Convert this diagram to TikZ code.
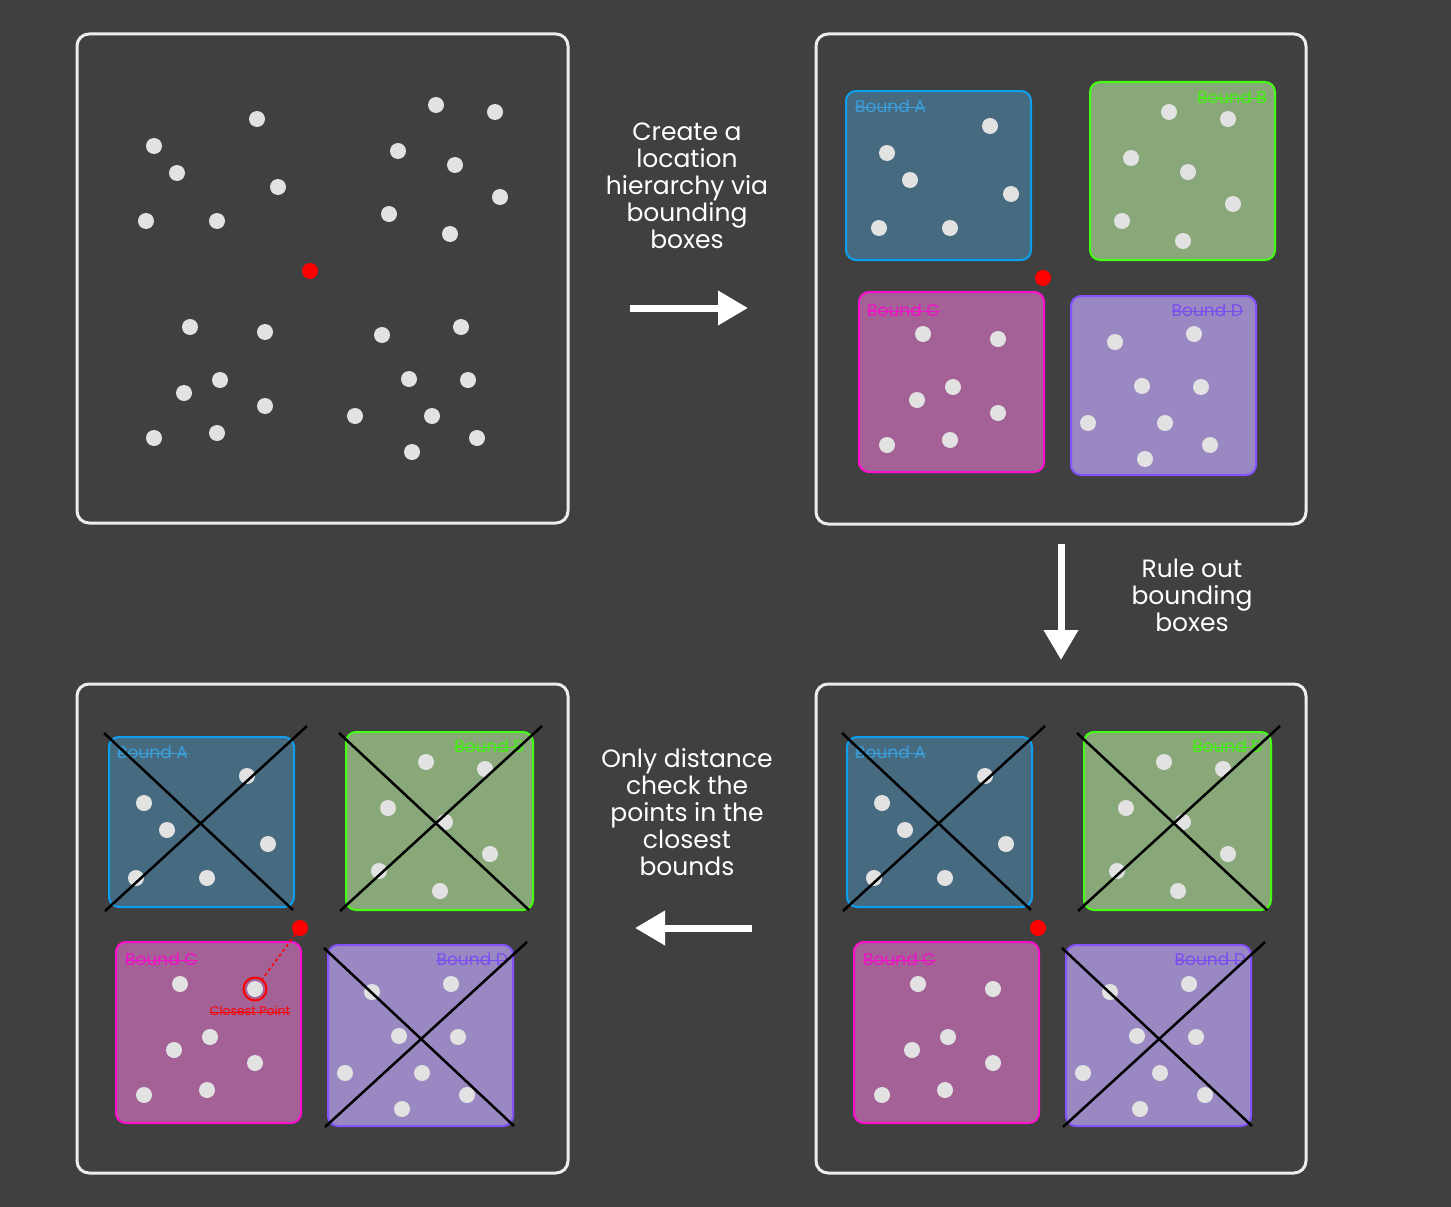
\documentclass[tikz,border=0pt]{standalone}
\usepackage{fontspec}
\setmainfont{Poppins}
\usetikzlibrary{arrows.meta,calc}
\definecolor{bg}{HTML}{404040}
\definecolor{dotc}{HTML}{E2E2E2}
\definecolor{panelc}{HTML}{EDEDED}
\definecolor{afill}{HTML}{466B81}
\definecolor{astroke}{HTML}{0EA0F0}
\definecolor{alabel}{HTML}{3A9FDC}
\definecolor{bfill}{HTML}{88A87A}
\definecolor{bstroke}{HTML}{44FF11}
\definecolor{blabel}{HTML}{44F010}
\definecolor{cfill}{HTML}{A36196}
\definecolor{cstroke}{HTML}{FF10D0}
\definecolor{clabel}{HTML}{F010C8}
\definecolor{dfill}{HTML}{9A88C2}
\definecolor{dstroke}{HTML}{8452FF}
\definecolor{dlabel}{HTML}{7A4DF0}
\definecolor{redc}{HTML}{FF0000}
\tikzset{
 panel/.style={draw=panelc, line width=3pt, rounded corners=12pt, fill=bg},
 boundbox/.style={line width=2pt, rounded corners=10pt},
 dot/.style={fill=dotc},
 reddot/.style={circle, fill=redc, minimum size=16pt, inner sep=0pt},
 cross/.style={draw=black, line width=2.5pt},
 bigarrow/.style={draw=white, line width=7pt, -{Triangle[length=30pt,width=33pt]}},
 captext/.style={text=white, align=center, font=\fontsize{25}{27}\selectfont, inner sep=0pt},
 lbl/.style={font=\fontsize{17}{20}\selectfont, inner sep=0pt},
}
\newcommand\strikelbl[2]{\draw[#1, line width=0.8pt] ([yshift=5pt]#2.base west) -- ([yshift=5pt]#2.base east);}
\newcommand\bottomquad[1]{%
 % Bound A
 \draw[boundbox, draw=astroke, fill=afill] (847,737) rectangle (1032,907);
 \foreach \px/\py in {985/776,882/803,905/830,1006/844,874/878,945/878} \fill[dot] (\px,\py) circle (8pt);
 \node[lbl,text=alabel,anchor=base west] (#1lA) at (855,758) {Bound A};
 \strikelbl{alabel}{#1lA}
 \draw[cross] (842,733) -- (1031,910);
 \draw[cross] (843,911) -- (1045,726);
 % Bound B
 \draw[boundbox, draw=bstroke, fill=bfill] (1084,732) rectangle (1271,910);
 \foreach \px/\py in {1164/762,1223/769,1126/808,1183/822,1228/854,1117/871,1178/891} \fill[dot] (\px,\py) circle (8pt);
 \node[lbl,text=blabel,anchor=base east] (#1lB) at (1262,752) {Bound B};
 \strikelbl{blabel}{#1lB}
 \draw[cross] (1077,733) -- (1267,910);
 \draw[cross] (1078,911) -- (1280,726);
 % Bound C
 \draw[boundbox, draw=cstroke, fill=cfill] (854,942) rectangle (1039,1123);
 \foreach \px/\py in {918/984,993/989,948/1037,912/1050,993/1063,882/1095,945/1090} \fill[dot] (\px,\py) circle (8pt);
 \node[lbl,text=clabel,anchor=base west] (#1lC) at (863,965) {Bound C};
 \strikelbl{clabel}{#1lC}
 % Bound D
 \draw[boundbox, draw=dstroke, fill=dfill] (1066,945) rectangle (1251,1126);
 \foreach \px/\py in {1110/992,1189/984,1137/1036,1196/1037,1083/1073,1160/1073,1205/1095,1140/1109} \fill[dot] (\px,\py) circle (8pt);
 \node[lbl,text=dlabel,anchor=base east] (#1lD) at (1246,965) {Bound D};
 \strikelbl{dlabel}{#1lD}
 \draw[cross] (1062,948) -- (1252,1126);
 \draw[cross] (1063,1127) -- (1265,942);
 % query point
 \node[reddot] (#1red) at (1038,928) {};
}
\begin{document}
\begin{tikzpicture}[x=1pt,y=-1pt]
\useasboundingbox (0,0) rectangle (1451,1207);
\fill[bg] (0,0) rectangle (1451,1207);

% panels
\path[panel] (77,34) rectangle (568,523);
\path[panel] (816,34) rectangle (1306,524);
\path[panel] (77,684) rectangle (568,1173);
\path[panel] (816,684) rectangle (1306,1173);

% panel 1: raw points
\foreach \px/\py in {257/119,154/146,177/173,278/187,146/221,217/221,436/105,495/112,398/151,455/165,500/197,389/214,450/234,190/327,265/332,382/335,461/327,220/380,184/393,265/406,409/379,468/380,355/416,432/416,154/438,217/433,412/452,477/438}
  \fill[dot] (\px,\py) circle (8pt);
\node[reddot] (red1) at (310,271) {};

% panel 2: bounding boxes
\draw[boundbox, draw=astroke, fill=afill] (846,91) rectangle (1031,260);
\foreach \px/\py in {990/126,887/153,910/180,1011/194,879/228,950/228} \fill[dot] (\px,\py) circle (8pt);
\node[lbl,text=alabel,anchor=base west] (tlA) at (855,112) {Bound A};
\strikelbl{alabel}{tlA}

\draw[boundbox, draw=bstroke, fill=bfill] (1090,82) rectangle (1275,260);
\foreach \px/\py in {1169/112,1228/119,1131/158,1188/172,1233/204,1122/221,1183/241} \fill[dot] (\px,\py) circle (8pt);
\node[lbl,text=blabel,anchor=base east] (tlB) at (1267,103) {Bound B};
\strikelbl{blabel}{tlB}

\draw[boundbox, draw=cstroke, fill=cfill] (859,292) rectangle (1044,472);
\foreach \px/\py in {923/334,998/339,953/387,917/400,998/413,887/445,950/440} \fill[dot] (\px,\py) circle (8pt);
\node[lbl,text=clabel,anchor=base west] (tlC) at (867,316) {Bound C};
\strikelbl{clabel}{tlC}

\draw[boundbox, draw=dstroke, fill=dfill] (1071,296) rectangle (1256,475);
\foreach \px/\py in {1115/342,1194/334,1142/386,1201/387,1088/423,1165/423,1210/445,1145/459} \fill[dot] (\px,\py) circle (8pt);
\node[lbl,text=dlabel,anchor=base east] (tlD) at (1243,316) {Bound D};
\strikelbl{dlabel}{tlD}

\node[reddot] (red2) at (1043,278) {};

% panel 4 (bottom right)
\bottomquad{br}
% panel 3 (bottom left)
\begin{scope}[xshift=-738pt]
\bottomquad{bl}
\end{scope}
\node[draw=redc, line width=2pt, circle, minimum size=23pt, inner sep=0pt] (cp) at (255,989) {};
\draw[redc, line width=1.6pt, dash pattern=on 3pt off 3pt] (blred) -- (cp);
\node[font=\fontsize{12.5}{14}\selectfont, text=redc, inner sep=0pt] (cpl) at (250,1011) {Closest Point};
\draw[redc, line width=0.6pt] ([yshift=3.6pt]cpl.base west) -- ([yshift=3.6pt]cpl.base east);

% captions
\node[captext] (t1) at (687,186) {Create a\\location\\hierarchy via\\bounding\\boxes};
\node[captext] (t2) at (1192,595) {Rule out\\bounding\\boxes};
\node[captext] (t3) at (687,812) {Only distance\\check the\\points in the\\closest\\bounds};

% arrows
\coordinate (r1s) at (630,308); \coordinate (r1e) at (748,308);
\coordinate (d1s) at (1061,544); \coordinate (d1e) at (1061,660);
\coordinate (l1s) at (752,928); \coordinate (l1e) at (635,928);
\draw[bigarrow] (r1s) -- (r1e);
\draw[bigarrow] (d1s) -- (d1e);
\draw[bigarrow] (l1s) -- (l1e);
\end{tikzpicture}
\end{document}
